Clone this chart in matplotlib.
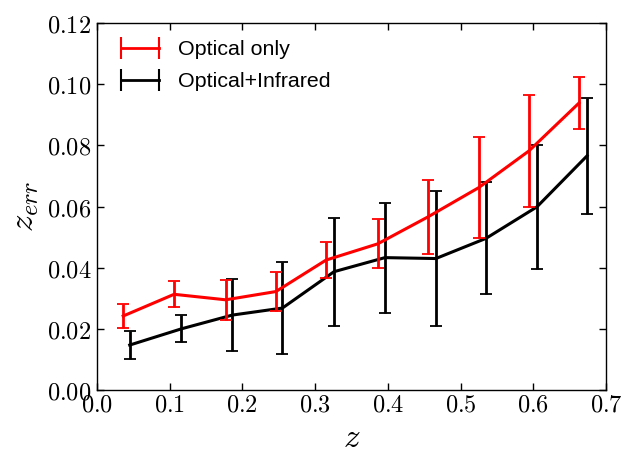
import matplotlib
matplotlib.use("Agg")
import matplotlib.pyplot as plt
from matplotlib.lines import Line2D
from matplotlib.ticker import FuncFormatter, MultipleLocator

# values
z_opt = [0.036, 0.106, 0.177, 0.246, 0.315, 0.386, 0.455, 0.525, 0.594, 0.663]
err_opt = [0.0242, 0.0313, 0.0295, 0.0322, 0.0425, 0.0478, 0.0566, 0.0662, 0.0782, 0.0939]
sig_opt = [0.0040, 0.0043, 0.0065, 0.0063, 0.0060, 0.0080, 0.0120, 0.0166, 0.0182, 0.0085]

z_oir = [0.045, 0.116, 0.186, 0.255, 0.326, 0.396, 0.466, 0.535, 0.605, 0.674]
err_oir = [0.0147, 0.0200, 0.0245, 0.0268, 0.0387, 0.0433, 0.0430, 0.0496, 0.0599, 0.0766]
sig_oir = [0.0047, 0.0044, 0.0117, 0.0151, 0.0177, 0.0180, 0.0221, 0.0183, 0.0203, 0.0190]

plt.rcParams["mathtext.fontset"] = "cm"
plt.rcParams["xtick.direction"] = "in"
plt.rcParams["ytick.direction"] = "in"
plt.rcParams["xtick.top"] = True
plt.rcParams["ytick.right"] = True

fig = plt.figure(figsize=(6.23, 4.54), dpi=100)
ax = fig.add_axes([0.1557, 0.141, 0.817, 0.808])

ax.errorbar(z_opt, err_opt, yerr=sig_opt, color="red", lw=2.2, elinewidth=2,
            capsize=4, capthick=1.3, zorder=3)
ax.errorbar(z_oir, err_oir, yerr=sig_oir, color="black", lw=2.2, elinewidth=2,
            capsize=4, capthick=1.3, zorder=2)

ax.set_xlim(0, 0.7)
ax.set_ylim(0, 0.12)
ax.xaxis.set_major_locator(MultipleLocator(0.1))
ax.yaxis.set_major_locator(MultipleLocator(0.02))
ax.xaxis.set_major_formatter(FuncFormatter(lambda v, p: "$%.1f$" % v))
ax.yaxis.set_major_formatter(FuncFormatter(lambda v, p: "$%.2f$" % v))
ax.tick_params(labelsize=17.5, length=5, width=1)
ax.tick_params(axis="x", pad=2)
ax.tick_params(axis="y", pad=4)
for s in ax.spines.values():
    s.set_linewidth(1)

ax.set_xlabel("$z$", fontsize=24, labelpad=3)
ax.set_ylabel("$z_{err}$", fontsize=25, labelpad=4)

handles = [Line2D([], [], color="red", lw=2, marker="|", markersize=16, markeredgewidth=1.5),
           Line2D([], [], color="black", lw=2, marker="|", markersize=16, markeredgewidth=1.5)]
ax.legend(handles, ["Optical only", "Optical+Infrared"], loc="upper left", frameon=False,
          numpoints=2, prop={"family": "Liberation Sans", "size": 15.4},
          handlelength=2.4, handletextpad=0.6, labelspacing=0.6,
          borderaxespad=0.4)

fig.savefig("out.png", dpi=100)
